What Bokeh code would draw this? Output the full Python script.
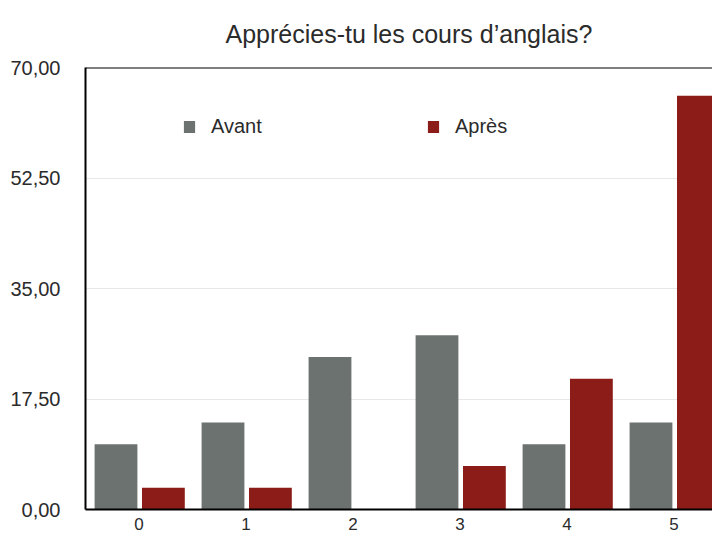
from bokeh.plotting import figure
from bokeh.models import ColumnDataSource, Range1d, FixedTicker, Span, Legend, LegendItem
from bokeh.transform import dodge
from bokeh.embed import file_html
from bokeh.resources import INLINE

# Data
scores = [0, 1, 2, 3, 4, 5]
score_labels = ["0", "1", "2", "3", "4", "5"]
avant = [10.34, 13.79, 24.14, 27.59, 10.34, 13.79]
apres = [3.45, 3.45, 0.0, 6.90, 20.69, 65.52]
y_ticks = [0, 17.5, 35, 52.5, 70]
y_tick_labels = ["0,00", "17,50", "35,00", "52,50", "70,00"]
title_text = "Apprécies-tu les cours d\u2019anglais?"
series_names = ["Avant", "Après"]

GRAY = "#6c7270"
RED = "#8b1c17"
FONT = "Liberation Sans"
TXT = "#2b2b2b"

src = ColumnDataSource(dict(x=scores, avant=avant, apres=apres))

FW, FH = 627, 442
p = figure(frame_width=FW, frame_height=FH, output_backend="svg", toolbar_location=None,
           x_range=Range1d(-0.5, -0.5 + FW / 107.0), y_range=Range1d(0, 70),
           min_border_left=85, min_border_right=0, min_border_top=67,
           min_border_bottom=0, title=title_text)

p.title.text_font = FONT
p.title.text_font_size = "25px"
p.title.text_font_style = "normal"
p.title.text_color = TXT
p.title.align = "left"
p.title.offset = 140
p.title.standoff = 35
p.title.vertical_align = "top"

r1 = p.vbar(x=dodge("x", -0.215, range=p.x_range), top="avant", width=0.40, source=src,
            fill_color=GRAY, line_color=None)
r2 = p.vbar(x=dodge("x", 0.228, range=p.x_range), top="apres", width=0.40, source=src,
            fill_color=RED, line_color=None)

p.outline_line_color = None
p.add_layout(Span(location=70, dimension="width", line_color="black", line_width=2))

p.xgrid.visible = False
p.ygrid.ticker = FixedTicker(ticks=y_ticks)
p.ygrid.grid_line_color = "#e8e8e8"

p.yaxis.ticker = FixedTicker(ticks=y_ticks)
p.yaxis.major_label_overrides = {t: l for t, l in zip(y_ticks, y_tick_labels)}
p.xaxis.ticker = FixedTicker(ticks=scores)
p.xaxis.major_label_overrides = {s: l for s, l in zip(scores, score_labels)}

for ax in (p.xaxis[0], p.yaxis[0]):
    ax.axis_line_color = "black"
    ax.axis_line_width = 2
    ax.major_tick_line_color = None
    ax.minor_tick_line_color = None
    ax.major_label_text_font = FONT
    ax.major_label_text_color = TXT
p.yaxis.major_label_text_font_size = "20px"
p.xaxis.major_label_text_font_size = "17px"
p.yaxis.major_label_standoff = 19
p.xaxis.major_label_standoff = 2

legend = Legend(items=[LegendItem(label=series_names[0], renderers=[r1]),
                       LegendItem(label=series_names[1], renderers=[r2])],
                orientation="horizontal", location=(97, FH - 56 - 15),
                padding=0, margin=0, spacing=0, label_width=215,
                glyph_width=14, glyph_height=15, label_height=15, label_standoff=15,
                background_fill_alpha=0, border_line_color=None,
                label_text_font=FONT, label_text_font_size="20px",
                label_text_color=TXT)
p.add_layout(legend)

open("out.html", "w").write(file_html(p, INLINE))
